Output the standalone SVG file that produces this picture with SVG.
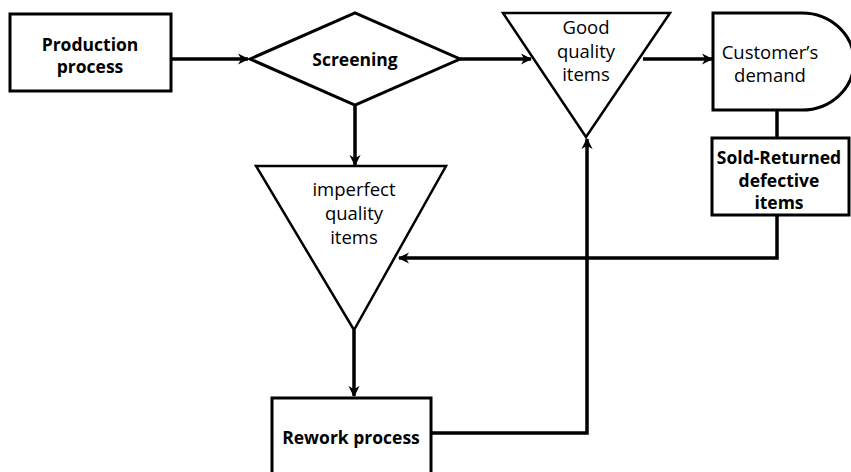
<svg xmlns="http://www.w3.org/2000/svg" width="851" height="472" viewBox="0 0 851 472">
<style>
  .shape { fill: #ffffff; stroke: #000000; stroke-width: 3; }
  .tri { fill: #ffffff; stroke: #000000; stroke-width: 2.5; }
  .conn { fill: none; stroke: #000000; stroke-width: 3.5; }
  .lbl { font-family: "Open Sans", "Liberation Sans", sans-serif; font-size: 18.5px; fill: #000000; text-anchor: middle; }
  .b { font-weight: bold; font-size: 17.5px; }
</style>
<defs>
  <marker id="arr" viewBox="0 0 10 10" refX="9" refY="5" markerWidth="3.2" markerHeight="3.2" orient="auto" markerUnits="strokeWidth">
    <path d="M0,0 L10,5 L0,10 L3,5 Z" fill="#000000"/>
  </marker>
</defs>
<g id="connectors">
  <line class="conn" x1="172" y1="59" x2="248" y2="59" marker-end="url(#arr)"/>
  <line class="conn" x1="460" y1="59" x2="531" y2="59" marker-end="url(#arr)"/>
  <line class="conn" x1="355" y1="105" x2="355" y2="165" marker-end="url(#arr)"/>
  <line class="conn" x1="643" y1="59" x2="712" y2="59" marker-end="url(#arr)"/>
  <line class="conn" x1="777" y1="110" x2="777" y2="137"/>
  <polyline class="conn" points="777,215 777,258 399,258" marker-end="url(#arr)"/>
  <line class="conn" x1="354" y1="330" x2="354" y2="396" marker-end="url(#arr)"/>
  <polyline class="conn" points="431,433 587,433 587,139" marker-end="url(#arr)"/>
</g>
<g id="production-process">
  <rect class="shape" x="10" y="14" width="161" height="77"/>
  <text class="lbl b" x="90" y="51">Production</text>
  <text class="lbl b" x="90" y="73">process</text>
</g>
<g id="screening">
  <polygon class="shape" points="250,59 355,13 460,59 355,105" stroke-width="2.5"/>
  <text class="lbl b" x="355" y="66">Screening</text>
</g>
<g id="good-quality-items">
  <polygon class="tri" points="503,13 670,13 586,137"/>
  <text class="lbl" x="586" y="34">Good</text>
  <text class="lbl" x="586" y="58">quality</text>
  <text class="lbl" x="586" y="81">items</text>
</g>
<g id="customers-demand">
  <path class="shape" d="M713,13 H802 A52,48.5 0 0 1 802,110 H713 Z" stroke-width="2.5"/>
  <text class="lbl" x="770" y="59">Customer’s</text>
  <text class="lbl" x="770" y="82">demand</text>
</g>
<g id="sold-returned-defective-items">
  <rect class="shape" x="712" y="138" width="137" height="77"/>
  <text class="lbl b" x="779" y="164">Sold-Returned</text>
  <text class="lbl b" x="779" y="187">defective</text>
  <text class="lbl b" x="779" y="209">items</text>
</g>
<g id="imperfect-quality-items">
  <polygon class="tri" points="256,166 446,166 354,330"/>
  <text class="lbl" x="354" y="196">imperfect</text>
  <text class="lbl" x="354" y="220">quality</text>
  <text class="lbl" x="354" y="244">items</text>
</g>
<g id="rework-process">
  <rect class="shape" x="272" y="398" width="159" height="80"/>
  <text class="lbl b" x="351" y="444">Rework process</text>
</g>
</svg>
